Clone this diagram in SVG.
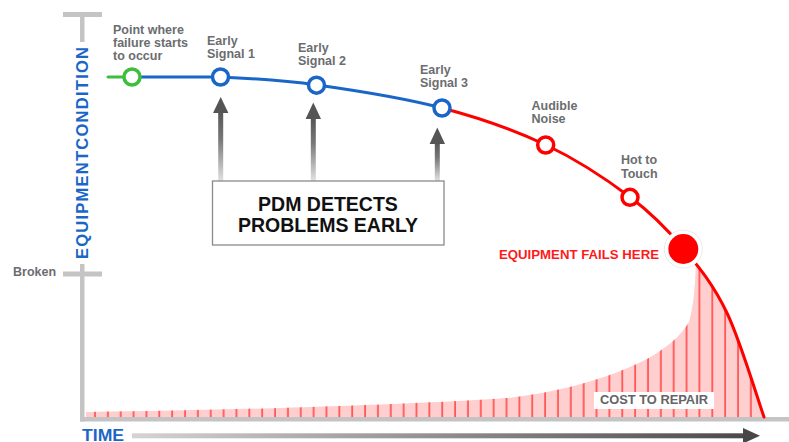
<svg xmlns="http://www.w3.org/2000/svg" width="789" height="442" viewBox="0 0 789 442">
<style>
  .lbl { font-family: "Liberation Sans", Arial, sans-serif; font-weight: bold; font-size: 12.5px; fill: #6b6d70; }
  .axis { fill: #c4c4c4; }
  .sig { fill: #ffffff; stroke-width: 3.5; }
  .blue { stroke: #1a66c8; }
  .red { stroke: #ff0000; }
  .green { stroke: #3cbf3c; }
  .curve { fill: none; stroke-width: 3; stroke-linecap: round; }
  .ttl { font-family: "Liberation Sans", Arial, sans-serif; font-weight: bold; fill: #1a66c8; }
  .boxtxt { font-family: "Liberation Sans", Arial, sans-serif; font-weight: bold; font-size: 19.5px; fill: #111111; text-anchor: middle; }
</style>
<defs>
  <linearGradient id="upArrow" x1="0" y1="1" x2="0" y2="0">
    <stop offset="0" stop-color="#e2e2e2"/>
    <stop offset="0.6" stop-color="#777777"/>
    <stop offset="1" stop-color="#555555"/>
  </linearGradient>
  <linearGradient id="timeArrow" gradientUnits="userSpaceOnUse" x1="132" y1="0" x2="760" y2="0">
    <stop offset="0" stop-color="#d4d4d4"/>
    <stop offset="1" stop-color="#474747"/>
  </linearGradient>
  <pattern id="hatch" patternUnits="userSpaceOnUse" x="89" y="0" width="12.86" height="442">
    <rect width="12.86" height="442" fill="#ffcfcf"/>
    <line x1="6" y1="0" x2="6" y2="442" stroke="#ff1a1a" stroke-width="1.2"/>
  </pattern>
</defs>

<!-- cost area -->
<g id="cost-area">
  <path fill="url(#hatch)" d="M86,417.5 L86,412 C250,410 420,404 507,398 C560,392 610,378 647,359 C665,349 680,337 689,322 C694,305 695,285 696,262 L683,248 C699.2,267.3 713.5,284.8 727,313 C740.5,341.2 757.8,399.7 764,417 L764,417.5 Z"/>
</g>

<!-- axes -->
<g id="axes">
  <rect class="axis" x="63" y="12" width="39" height="5"/>
  <rect class="axis" x="80" y="12" width="4.5" height="30"/>
  <rect class="axis" x="63" y="271.5" width="39" height="5"/>
  <rect class="axis" x="80" y="264" width="4.5" height="157.5"/>
  <rect class="axis" x="80" y="417" width="709" height="4.5"/>
  <text class="ttl" font-size="16.5" textLength="212" lengthAdjust="spacing" text-anchor="middle" transform="translate(88,153) rotate(-90)">EQUIPMENTCONDITION</text>
  <text class="ttl" x="82" y="440.5" font-size="16" textLength="42" lengthAdjust="spacingAndGlyphs">TIME</text>
  <rect x="132" y="433.3" width="613" height="5" fill="url(#timeArrow)"/>
  <polygon points="743,428 760,435.8 743,443.5" fill="#474747"/>
  <text class="lbl" x="13" y="276">Broken</text>
</g>

<!-- connectors -->
<g id="connectors">
  <path class="curve green" d="M108,77 L125,77"/>
  <path class="curve blue" d="M132,77 C150.7,77 189,77 220,77 C250.8,78.3 280,79.8 317,85 C354,90.2 403.8,98 442,108"/>
  <path class="curve red" d="M442,108 C480.2,118 514.7,130.2 546,145 C577.3,159.8 607.2,179.8 630,197 C652.8,214.2 666.8,228.7 683,248 C699.2,267.3 713.5,284.8 727,313 C740.5,341.2 757.8,399.7 764,417"/>
  <rect x="218.2" y="111" width="5" height="70" fill="url(#upArrow)"/>
  <polygon points="213,113 220.7,97 228.4,113" fill="#555555"/>
  <rect x="310.8" y="117" width="5" height="64" fill="url(#upArrow)"/>
  <polygon points="305.6,119 313.3,102.5 321,119" fill="#555555"/>
  <rect x="434.8" y="142" width="5" height="39" fill="url(#upArrow)"/>
  <polygon points="429.6,144 437.3,127.5 445,144" fill="#555555"/>
</g>

<!-- nodes -->
<g id="start">
  <circle class="sig green" cx="132" cy="77" r="8"/>
  <text class="lbl" x="113" y="33.5">Point where</text>
  <text class="lbl" x="113" y="46.5">failure starts</text>
  <text class="lbl" x="113" y="59.5">to occur</text>
</g>
<g id="signal1">
  <circle class="sig blue" cx="220.5" cy="77" r="8"/>
  <text class="lbl" x="207" y="45">Early</text>
  <text class="lbl" x="207" y="58.3">Signal 1</text>
</g>
<g id="signal2">
  <circle class="sig blue" cx="316.5" cy="85.2" r="8"/>
  <text class="lbl" x="298" y="51.7">Early</text>
  <text class="lbl" x="298" y="64.5">Signal 2</text>
</g>
<g id="signal3">
  <circle class="sig blue" cx="442" cy="108" r="8"/>
  <text class="lbl" x="420" y="74">Early</text>
  <text class="lbl" x="420" y="87.3">Signal 3</text>
</g>
<g id="audible">
  <circle class="sig red" cx="545.7" cy="145" r="8"/>
  <text class="lbl" x="531.5" y="110">Audible</text>
  <text class="lbl" x="531.5" y="123.3">Noise</text>
</g>
<g id="hot">
  <circle class="sig red" cx="630" cy="197.3" r="8"/>
  <text class="lbl" x="621" y="164.3">Hot to</text>
  <text class="lbl" x="621" y="177.7">Touch</text>
</g>
<g id="fail">
  <circle cx="683.3" cy="249" r="19" fill="#ffffff" stroke="#e4e4e4" stroke-width="0.8"/>
  <circle cx="683.3" cy="249" r="15" fill="#ff0000"/>
  <text x="499" y="259" font-family="Liberation Sans, Arial, sans-serif" font-weight="bold" font-size="13" fill="#ff1a1a" textLength="160" lengthAdjust="spacingAndGlyphs">EQUIPMENT FAILS HERE</text>
</g>
<g id="pdm-box">
  <rect x="212.5" y="181" width="231.5" height="64" fill="#ffffff" stroke="#8a8a8a" stroke-width="1.3"/>
  <text class="boxtxt" x="328" y="211">PDM DETECTS</text>
  <text class="boxtxt" x="328" y="231.5">PROBLEMS EARLY</text>
</g>
<g id="cost-label">
  <rect x="594" y="392" width="120" height="17" fill="#ffffff"/>
  <text x="654" y="404.3" font-family="Liberation Sans, Arial, sans-serif" font-weight="bold" font-size="12" fill="#636466" text-anchor="middle" textLength="108" lengthAdjust="spacingAndGlyphs">COST TO REPAIR</text>
</g>
</svg>
